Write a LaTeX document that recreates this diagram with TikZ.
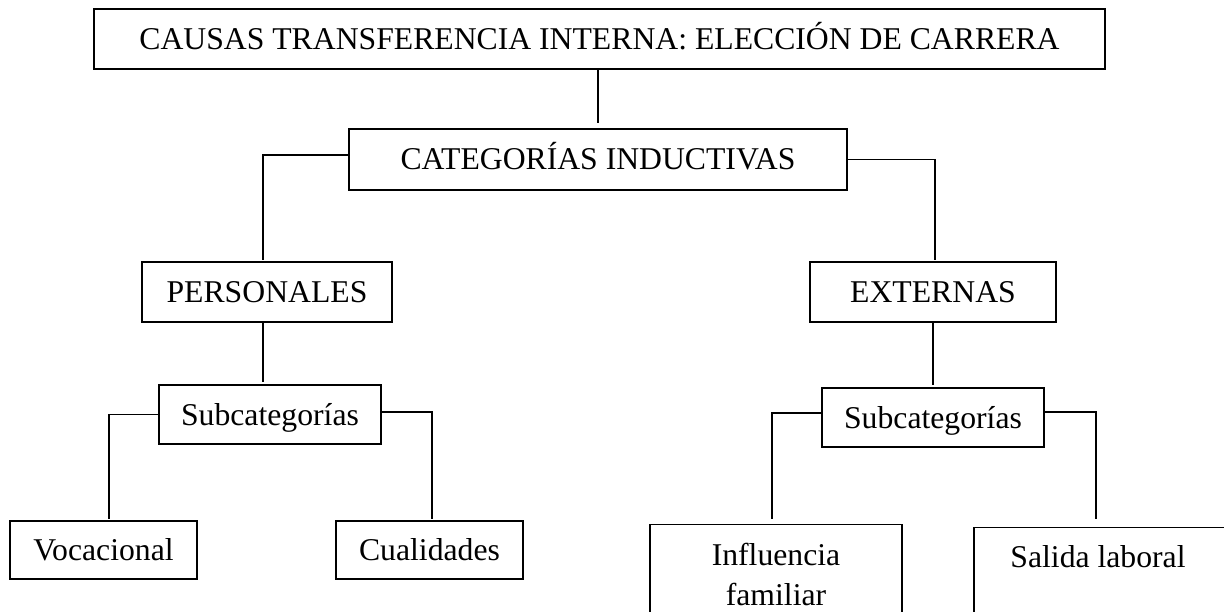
\documentclass[tikz,border=0pt]{standalone}
\usepackage{fontspec}
\setmainfont{Liberation Serif}
\begin{document}
\begin{tikzpicture}[x=1pt,y=-1pt,
  lbl/.style={font=\fontsize{31.7pt}{40pt}\selectfont},
  box/.style={draw, rectangle, inner sep=0pt, lbl, text height=21pt, text depth=0pt},
  thickbox/.style={box, line width=2.8pt},
  thinbox/.style={box, line width=1.3pt},
  frame/.style={draw, rectangle, inner sep=0pt, line width=1.3pt, anchor=north},
  txt/.style={inner sep=0pt, lbl, anchor=base},
  conn/.style={line width=1.2pt}]
\useasboundingbox (0,0) rectangle (1224,612);
\clip (0,0) rectangle (1224,612);
\fill[white] (0,0) rectangle (1224,612);

% boxes
\node[thickbox, minimum width=1011pt, minimum height=60pt] (top) at (599.5,39)
  {CAUSAS TRANSFERENCIA INTERNA: ELECCIÓN DE CARRERA};
\node[thickbox, minimum width=498pt, minimum height=61pt] (cat) at (598,159.5)
  {CATEGORÍAS INDUCTIVAS};
\node[thickbox, minimum width=250pt, minimum height=60pt] (pers) at (267,292) {PERSONALES};
\node[thickbox, minimum width=246pt, minimum height=60pt] (ext) at (933,292) {EXTERNAS};
\node[thinbox, minimum width=222pt, minimum height=59pt] (sub1) at (270,414.5) {Subcategorías};
\node[thinbox, minimum width=222pt, minimum height=59pt] (sub2) at (933,417.5) {Subcategorías};
\node[thinbox, minimum width=187pt, minimum height=58pt] (voc) at (103.5,550) {Vocacional};
\node[thinbox, minimum width=187pt, minimum height=58pt] (cual) at (429.5,550) {Cualidades};
\node[frame, minimum width=252pt, minimum height=120pt] (infl) at (776,524) {};
\node[txt] (infl1) at (776,565) {Influencia};
\node[txt] (infl2) at (776,605) {familiar};
\node[frame, minimum width=266pt, minimum height=120pt] (sal) at (1107,527) {};
\node[txt] (sal1) at (1098,567) {Salida laboral};

% connectors
\draw[conn, shorten >=5pt] (top.south -| cat.north) -- (cat.north);
\draw[conn, shorten >=1pt] ([yshift=4.5pt]cat.west) -| ([xshift=-4pt]pers.north);
\draw[conn, shorten >=1pt] (cat.east) -| ([xshift=2pt]ext.north);
\draw[conn, shorten >=2pt] ([xshift=-4pt]pers.south) -- ([xshift=-4pt]pers.south |- sub1.north);
\draw[conn, shorten >=2pt] (ext.south) -- (ext.south |- sub2.north);
\draw[conn, shorten >=1pt] (sub1.west) -| ([xshift=5.5pt]voc.north);
\draw[conn, shorten >=1pt] ([yshift=2.5pt]sub1.east) -| ([xshift=2.5pt]cual.north);
\draw[conn, shorten >=5pt] ([yshift=4.5pt]sub2.west) -| ([xshift=-4pt]infl.north);
\draw[conn, shorten >=8pt] ([yshift=5.5pt]sub2.east) -| ([xshift=-11pt]sal.north);
\end{tikzpicture}
\end{document}
